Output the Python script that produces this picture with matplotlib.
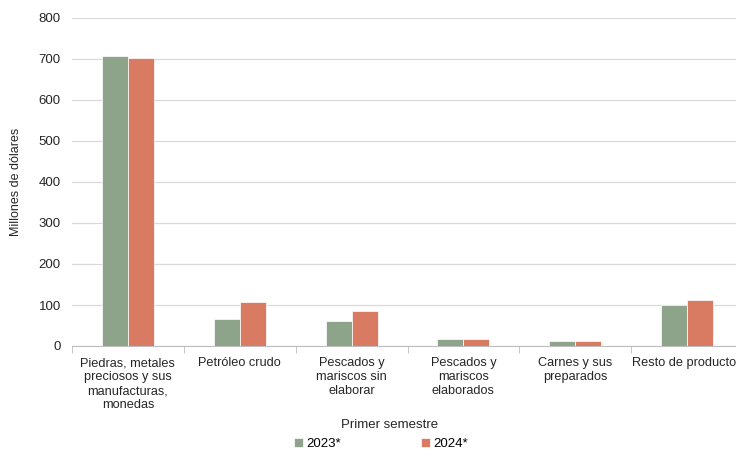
import numpy as np
import matplotlib.pyplot as plt

plt.rcParams['font.family'] = ['Liberation Sans', 'DejaVu Sans']

categorias = ["Piedras, metales\npreciosos y sus\nmanufacturas,\nmonedas",
              "Petróleo crudo",
              "Pescados y\nmariscos sin\nelaborar",
              "Pescados y\nmariscos\nelaborados",
              "Carnes y sus\npreparados",
              "Resto de productos"]
v2023 = [707, 66, 61, 18, 13, 100]
v2024 = [702, 107, 85, 18, 13, 111]

fig = plt.figure(figsize=(7.36, 4.5), dpi=100)
ax = fig.add_axes([72/736, 1 - 346/450, (743 - 72)/736, (346 - 18)/450])

x = np.arange(len(categorias))
w = 0.233
ax.bar(x - w/2, v2023, w, color='#8da38a', edgecolor='white', linewidth=0.5, label='2023*', zorder=3)
ax.bar(x + w/2, v2024, w, color='#d97a62', edgecolor='white', linewidth=0.5, label='2024*', zorder=3)

ax.set_xlim(-0.5, len(categorias) - 0.5)
ax.set_ylim(0, 800)
ax.set_yticks(range(0, 801, 100))
ax.set_xticks(x)
ax.set_xticklabels(categorias, fontsize=9.2, color='#262626', linespacing=1.22)
ax.set_xticks(np.arange(-0.5, len(categorias)), minor=True)
ax.tick_params(axis='x', which='major', length=0, pad=8)
ax.tick_params(axis='x', which='minor', length=5, color='#bfbfbf')
ax.tick_params(axis='y', length=0, labelsize=9.5, labelcolor='#262626', pad=8)
ax.grid(axis='y', color='#d9d9d9', linewidth=0.9, zorder=0)
for s in ['top', 'right', 'left']:
    ax.spines[s].set_visible(False)
ax.spines['bottom'].set_color('#bfbfbf')

ax.set_ylabel('Millones de dólares', fontsize=9, color='#262626', labelpad=12)
fig.text(390/736, 1 - 425/450, 'Primer semestre', ha='center', va='center', fontsize=9.5, color='#262626')

fig.legend(loc='center', bbox_to_anchor=(381/736, 1 - 444/450), ncol=2, frameon=False,
           fontsize=9.5, handlelength=0.7, handleheight=0.7, handletextpad=0.2, columnspacing=6.1)

fig.savefig('out.png', dpi=100)
